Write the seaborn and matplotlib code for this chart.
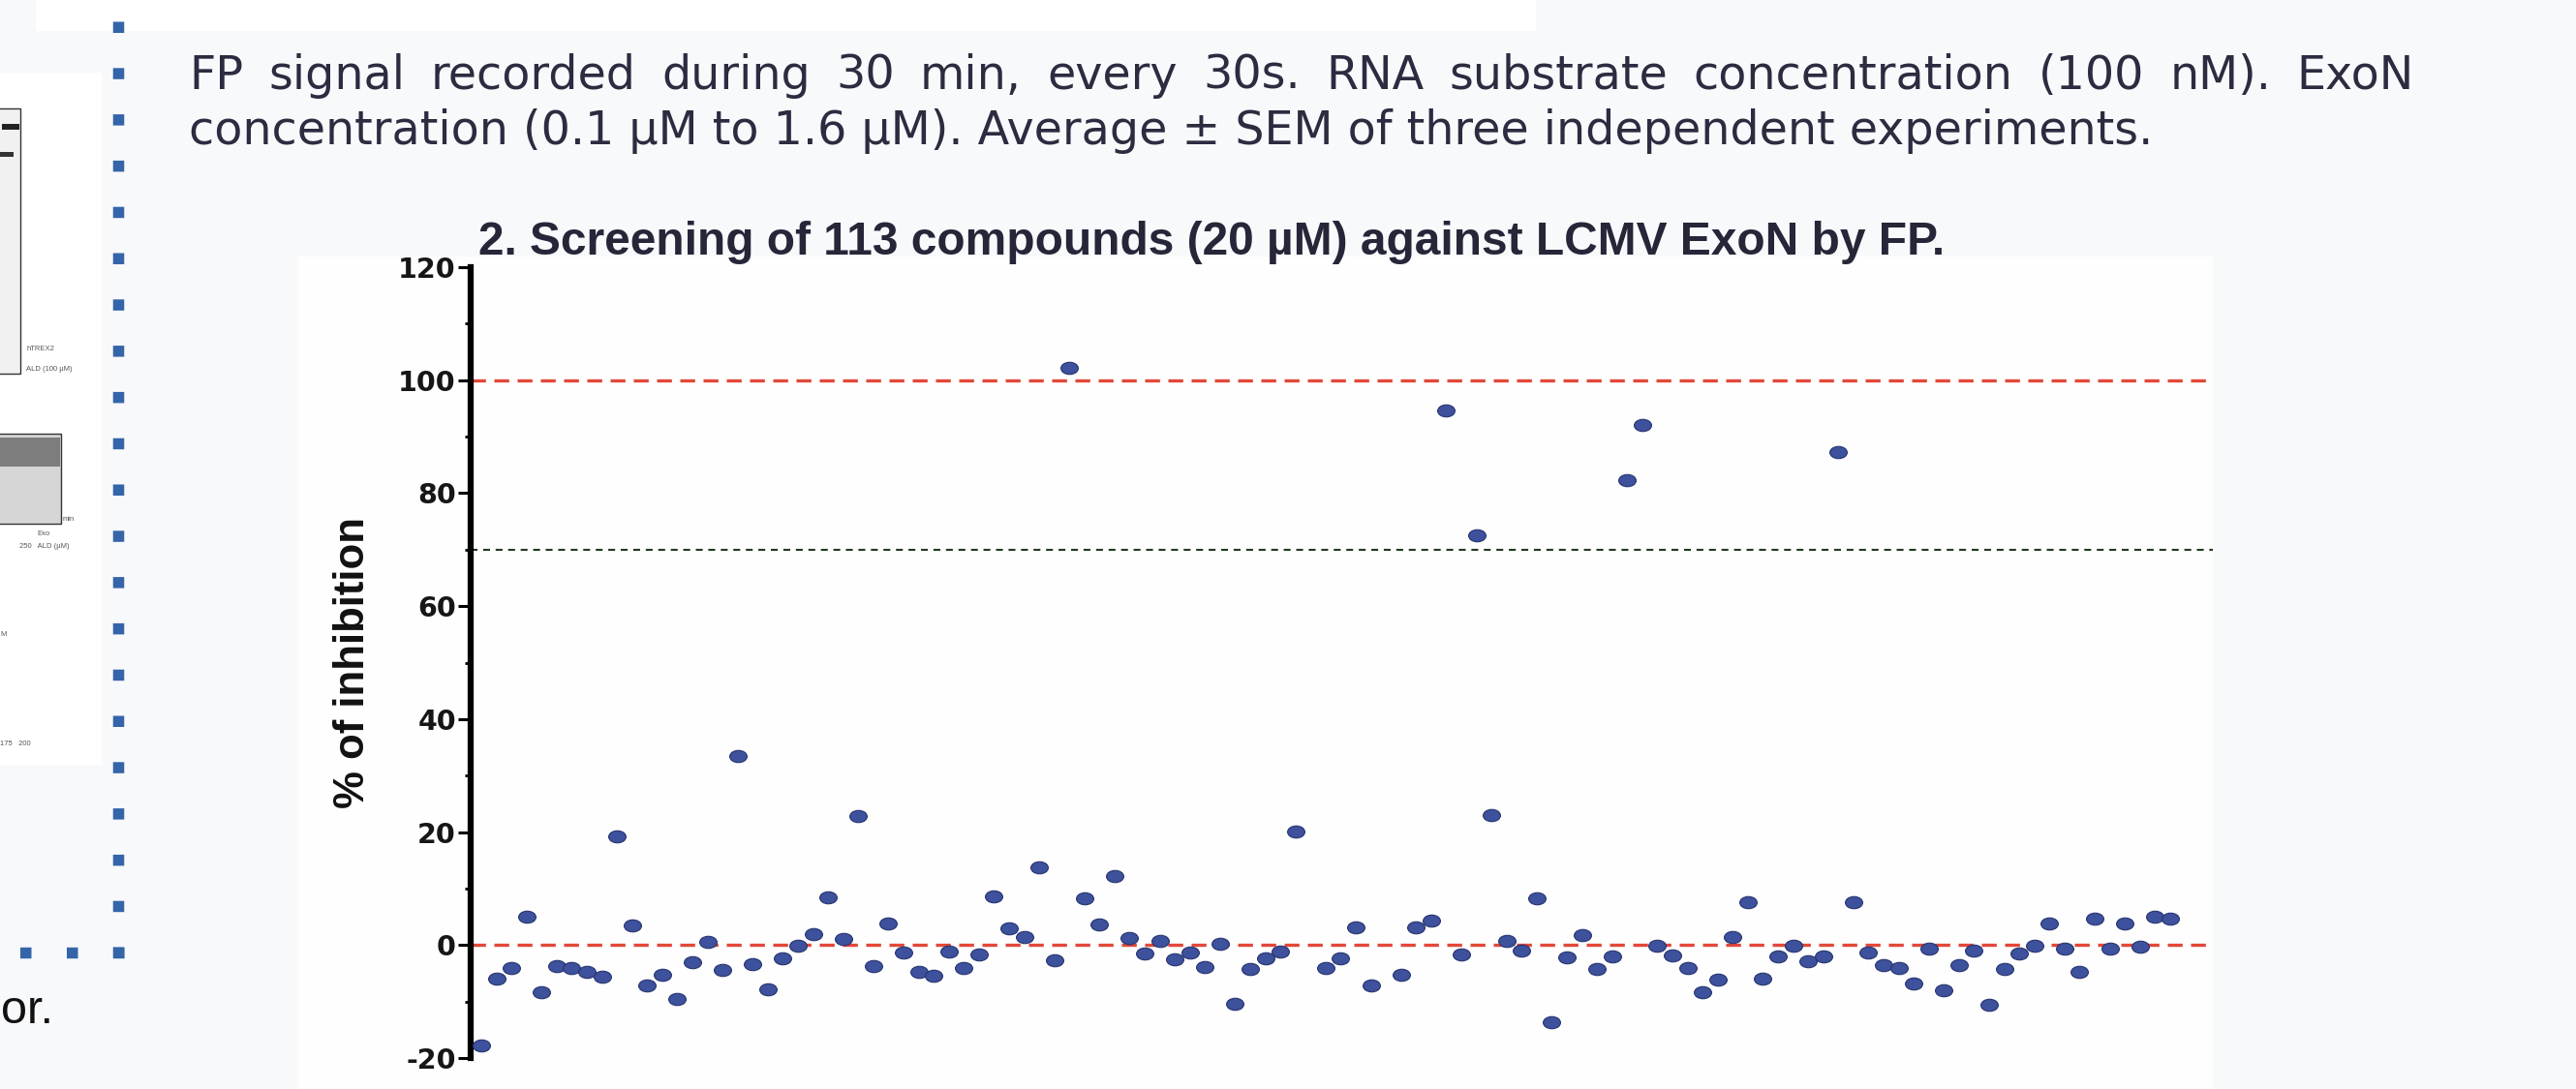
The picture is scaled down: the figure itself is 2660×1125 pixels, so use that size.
import numpy as np
import pandas as pd
import matplotlib
matplotlib.use("Agg")
import matplotlib.pyplot as plt
import seaborn as sns
from matplotlib.path import Path
from matplotlib.patches import Rectangle
from matplotlib.lines import Line2D
from matplotlib import font_manager

# ---------------- data ----------------
compound_index = [0, 1, 2, 3, 4, 5, 6, 7, 8, 9, 10, 11, 12, 13, 14, 15, 16, 17, 18, 19,
                  20, 21, 22, 23, 24, 25, 26, 27, 28, 29, 30, 31, 32, 33, 34, 35, 36, 37, 38, 39,
                  40, 41, 42, 43, 44, 45, 46, 47, 48, 49, 50, 51, 52, 53, 54, 56, 57, 58, 59,
                  61, 62, 63, 64, 65, 66, 67, 68, 69, 70, 71, 72, 73, 74, 75, 76, 77, 78, 79,
                  80, 81, 82, 83, 84, 85, 86, 87, 88, 89, 90, 91, 92, 93, 94, 95, 96, 97, 98, 99,
                  100, 101, 102, 103, 104, 105, 106, 107, 108, 109, 110, 111, 112]
inhibition = [-17.8, -5.9, -4.1, 5.1, -8.4, -3.7, -4.1, -4.8, -5.6, 19.2,
              3.4, -7.1, -5.3, -9.5, -3.0, 0.5, -4.4, 33.4, -3.3, -7.8,
              -2.4, -0.2, 1.9, 8.4, 1.0, 22.8, -3.7, 3.8, -1.3, -4.8,
              -5.4, -1.1, -4.0, -1.6, 8.7, 2.9, 1.5, 13.7, -2.7, 102.1,
              8.2, 3.7, 12.2, 1.3, -1.5, 0.8, -2.5, -1.3, -3.9, 0.2,
              -10.4, -4.3, -2.4, -1.2, 20.1, -4.1, -2.4, 3.2, -7.1,
              -5.3, 3.2, 4.3, 94.7, -1.7, 72.6, 23.0, 0.8, -1.0, 8.2,
              -13.7, -2.2, 1.8, -4.3, -2.0, 82.3, 92.1, -0.1, -1.8,
              -4.1, -8.4, -6.1, 1.4, 7.6, -5.9, -2.0, -0.1, -2.9, -2.0,
              87.2, 7.6, -1.3, -3.5, -4.1, -6.8, -0.6, -8.0, -3.5, -1.0,
              -10.6, -4.3, -1.5, -0.1, 3.9, -0.6, -4.8, 4.6, -0.6, 3.9,
              -0.3, 5.1, 4.6]
y_ticks = [-20, 0, 20, 40, 60, 80, 100, 120]
y_tick_labels = ["-20", "0", "20", "40", "60", "80", "100", "120"]
y_minor_ticks = [-10, 10, 30, 50, 70, 90, 110]
red_reference_lines = [0, 100]
hit_threshold = [70]

title = "2. Screening of 113 compounds (20 µM) against LCMV ExoN by FP."
y_label = "% of inhibition"
desc_line1 = "FP signal recorded during 30 min, every 30s. RNA substrate concentration (100 nM). ExoN"
desc_line2 = "concentration (0.1 µM to 1.6 µM). Average ± SEM of three independent experiments."
side_texts = ["hTREX2", "ALD (100 µM)", "min", "Exo", "250   ALD (µM)", "M", "175   200"]

df = pd.DataFrame({"compound": compound_index, "inhibition": inhibition})

# ---------------- figure ----------------
W, H = 2660, 1125
fig = plt.figure(figsize=(W / 100, H / 100), dpi=100)
fig.patch.set_facecolor("#f8f9fb")
names = {f.name for f in font_manager.fontManager.ttflist}


def fx(x):
    return x / W


def fy(y):
    return 1 - y / H


def rect(x0, y0, x1, y1, fc, ec="none", lw=0, z=-5):
    fig.add_artist(Rectangle((fx(x0), fy(y1)), (x1 - x0) / W, (y1 - y0) / H,
                             transform=fig.transFigure, facecolor=fc, edgecolor=ec,
                             linewidth=lw, zorder=z))


# slide background pieces
rect(37, 0, 1586, 32, "#ffffff")
rect(0, 75, 105, 790, "#ffffff")
rect(308, 265, 2285, 1125, "#fefefe")

# small pieces of the left picture
rect(-10, 112, 21, 386, "#f1f1f1", ec="#333333", lw=1.0, z=-4)
rect(-10, 448, 63, 541, "#d6d6d6", ec="#333333", lw=1.0, z=-4)
rect(-10, 452, 62, 482, "#7d7d7d", z=-3)
rect(2, 128, 20, 134, "#222222", z=-3)
rect(-5, 157, 14, 162, "#333333", z=-3)
side_pos = [(27, 362), (27, 383), (65, 538), (38, 553), (20, 566), (0, 657), (0, 770)]
for t, (x, y) in zip(side_texts, side_pos):
    fig.text(fx(x), fy(y), t, fontsize=5.5, color="#555555", family="Liberation Sans",
             va="baseline", ha="left")

# blue dotted frame (slide decoration)
blue = "#3465a8"
lw_px = 11.5
lw_pt = lw_px * 0.72
fig.add_artist(Line2D([fx(122), fx(122)], [fy(22), fy(992)], transform=fig.transFigure,
                      color=blue, linewidth=lw_pt, solid_capstyle="butt",
                      dash_capstyle="butt", dashes=(1, (47.8 - lw_px) / lw_px), zorder=-2))
fig.add_artist(Line2D([fx(128), fx(0)], [fy(984), fy(984)], transform=fig.transFigure,
                      color=blue, linewidth=lw_pt, dash_capstyle="butt",
                      dashes=(1, (48 - lw_px) / lw_px), zorder=-2))

fig.text(fx(1), fy(1057), "or.", fontsize=35, family="Liberation Sans", color="#111111",
         va="baseline", ha="left")

# ---------------- description text (justified first line) ----------------
renderer = fig.canvas.get_renderer()
txt_color = "#2b2c40"
probe = fig.text(0, 0, desc_line2, fontsize=34, family="DejaVu Sans")
wprobe = probe.get_window_extent(renderer=renderer).width
probe.remove()
desc_size = 34 * 2033 / wprobe

words = desc_line1.split(" ")
wt = [fig.text(0, fy(92), w, fontsize=desc_size, family="DejaVu Sans", color=txt_color,
               va="baseline", ha="left") for w in words]
widths = [t.get_window_extent(renderer=renderer).width for t in wt]
gap = (2493 - 195 - sum(widths)) / (len(words) - 1)
xc = 195
for t, w in zip(wt, widths):
    t.set_x(fx(xc))
    xc += w + gap
fig.text(fx(195), fy(149), desc_line2, fontsize=desc_size, family="DejaVu Sans",
         color=txt_color, va="baseline", ha="left")

# ---------------- title ----------------
probe = fig.text(0, 0, title, fontsize=34, fontweight="bold", family="Liberation Sans")
wprobe = probe.get_window_extent(renderer=renderer).width
probe.remove()
fig.text(fx(494), fy(263), title, fontsize=34 * 1516 / wprobe, fontweight="bold",
         family="Liberation Sans", color="#252638", va="baseline", ha="left")

# ---------------- chart ----------------
ax = fig.add_axes([fx(486), fy(1093), (2285 - 486) / W, (1093 - 276) / H])
ax.patch.set_alpha(0)
ax.set_zorder(2)

for v in red_reference_lines:
    ax.axhline(v, color="#e2483a", linewidth=2.4, dashes=(4.6, 2.6), zorder=1)
for v in hit_threshold:
    ax.axhline(v, color="#1f3a1f", linewidth=1.5, dashes=(3.4, 2.8), zorder=1)

circ = Path.unit_circle()
ellipse = Path(circ.vertices * np.array([1.0, 0.7]), circ.codes)
sns.scatterplot(data=df, x="compound", y="inhibition", ax=ax, marker=ellipse, s=165,
                color="#3d519c", edgecolor="#26336f", linewidth=0.8, zorder=3, legend=False)

ax.set_xlim(-0.707, 114.84)
ax.set_ylim(-20, 120)
ax.set_xticks([])
ax.set_xlabel("")
ax.set_yticks(y_ticks)
ax.set_yticklabels(y_tick_labels, fontfamily="DejaVu Sans", fontweight="bold",
                   fontsize=20.5, color="#161616")
ax.set_yticks(y_minor_ticks, minor=True)
ax.tick_params(axis="y", which="major", length=9.4, width=2.2, pad=1.5, color="black",
               direction="out")
ax.tick_params(axis="y", which="minor", length=4.5, width=2.0, color="black",
               direction="out")
for s in ["top", "right", "bottom"]:
    ax.spines[s].set_visible(False)
ax.spines["left"].set_linewidth(4.5)
ax.spines["left"].set_color("black")

if "Liberation Sans Narrow" in names:
    ax.set_ylabel(y_label, fontsize=43, family="Liberation Sans Narrow", color="#111111",
                  va="center")
else:
    ax.set_ylabel(y_label, fontsize=31.5, family="Liberation Sans", fontweight="bold",
                  color="#111111", va="center")
ax.yaxis.set_label_coords((364 - 486) / (2285 - 486), 0.5)

fig.savefig("out.png", dpi=100, facecolor=fig.get_facecolor())
